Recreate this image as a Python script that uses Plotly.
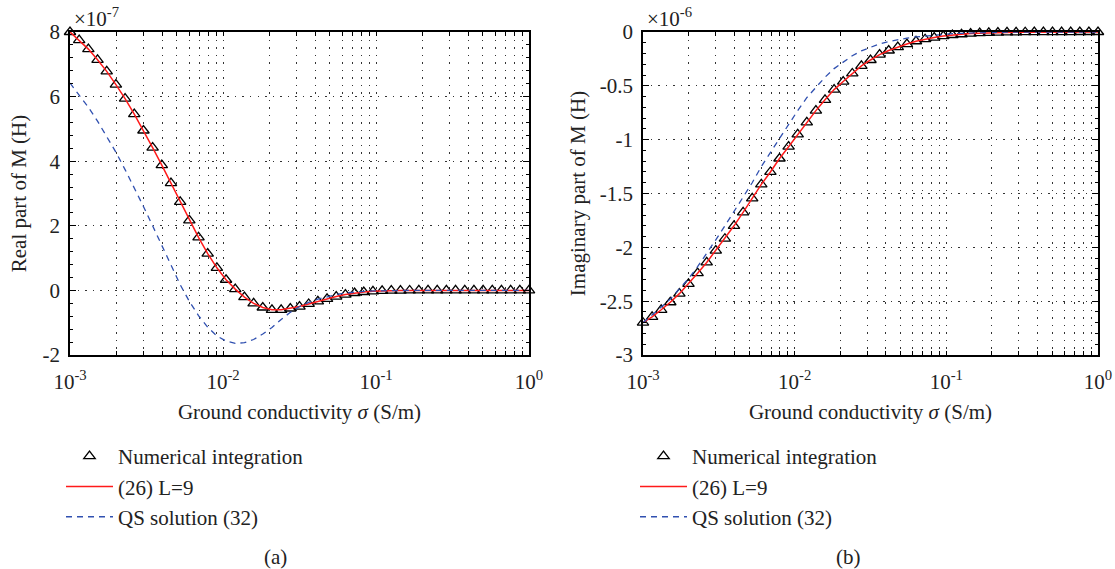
import plotly.graph_objects as go

# log10 of ground conductivity sample points (S/m)
log_sigma = [-3.00, -2.94, -2.88, -2.82, -2.76, -2.70, -2.64, -2.58, -2.52, -2.46,
             -2.40, -2.34, -2.28, -2.22, -2.16, -2.10, -2.04, -1.98, -1.92, -1.86,
             -1.80, -1.74, -1.68, -1.62, -1.56, -1.50, -1.44, -1.38, -1.32, -1.26,
             -1.20, -1.14, -1.08, -1.02, -0.96, -0.90, -0.84, -0.78, -0.72, -0.66,
             -0.60, -0.54, -0.48, -0.42, -0.36, -0.30, -0.24, -0.18, -0.12, -0.06, 0.00]
sigma = [10 ** v for v in log_sigma]

# Real part of M, units of 1e-7 H
real_numerical = [8.00, 7.75, 7.47, 7.14, 6.78, 6.37, 5.94, 5.46, 4.95, 4.42,
                  3.88, 3.32, 2.74, 2.17, 1.64, 1.14, 0.70, 0.33, 0.04, -0.21,
                  -0.40, -0.53, -0.60, -0.60, -0.56, -0.50, -0.42, -0.34, -0.26, -0.19,
                  -0.13, -0.08, -0.05, -0.03, -0.015, -0.008, -0.004, -0.002, -0.001, 0.0,
                  0.0, 0.0, 0.0, 0.0, 0.0, 0.0, 0.0, 0.0, 0.0, 0.0, 0.0]
real_l9 = real_numerical
real_qs = [6.42, 6.06, 5.67, 5.24, 4.77, 4.28, 3.74, 3.18, 2.60, 2.00,
           1.39, 0.78, 0.18, -0.34, -0.78, -1.14, -1.41, -1.57, -1.64, -1.62,
           -1.52, -1.35, -1.15, -0.90, -0.68, -0.50, -0.37, -0.27, -0.19, -0.13,
           -0.08, -0.05, -0.03, -0.015, -0.007, -0.003, -0.001, 0.0, 0.0, 0.0,
           0.0, 0.0, 0.0, 0.0, 0.0, 0.0, 0.0, 0.0, 0.0, 0.0, 0.0]

# Imaginary part of M, units of 1e-6 H
imag_numerical = [-2.70, -2.645, -2.58, -2.51, -2.43, -2.34, -2.24, -2.14, -2.03, -1.92,
                  -1.80, -1.675, -1.545, -1.415, -1.30, -1.175, -1.065, -0.95, -0.84, -0.73,
                  -0.63, -0.535, -0.46, -0.385, -0.315, -0.26, -0.21, -0.172, -0.14, -0.112,
                  -0.086, -0.067, -0.052, -0.038, -0.028, -0.021, -0.015, -0.011, -0.008, -0.006,
                  -0.004, -0.003, -0.002, -0.0015, -0.001, -0.001, -0.0005, -0.0005, 0.0, 0.0, 0.0]
imag_l9 = imag_numerical
imag_qs = [-2.70, -2.63, -2.555, -2.48, -2.39, -2.29, -2.18, -2.06, -1.93, -1.80,
           -1.67, -1.53, -1.40, -1.25, -1.12, -0.98, -0.85, -0.73, -0.61, -0.51,
           -0.42, -0.34, -0.28, -0.22, -0.175, -0.14, -0.11, -0.088, -0.07, -0.057,
           -0.046, -0.037, -0.029, -0.022, -0.016, -0.012, -0.009, -0.006, -0.004, -0.003,
           -0.002, -0.0015, -0.001, -0.001, -0.0005, -0.0005, 0.0, 0.0, 0.0, 0.0, 0.0]

# x ticks: decades labelled, 2..9 unlabelled (log minor positions)
x_tickvals = [0.001, 0.002, 0.003, 0.004, 0.005, 0.006, 0.007, 0.008, 0.009,
              0.01, 0.02, 0.03, 0.04, 0.05, 0.06, 0.07, 0.08, 0.09,
              0.1, 0.2, 0.3, 0.4, 0.5, 0.6, 0.7, 0.8, 0.9, 1]
x_ticktext = ["10<sup>-3</sup>", "", "", "", "", "", "", "", "",
              "10<sup>-2</sup>", "", "", "", "", "", "", "", "",
              "10<sup>-1</sup>", "", "", "", "", "", "", "", "",
              "10<sup>0</sup>"]
real_tickvals = [-2, 0, 2, 4, 6, 8]
real_ticktext = ["-2", "0", "2", "4", "6", "8"]
imag_tickvals = [-3, -2.5, -2, -1.5, -1, -0.5, 0]
imag_ticktext = ["-3", "-2.5", "-2", "-1.5", "-1", "-0.5", "0"]

names = ["Numerical integration", "(26) L=9", "QS solution (32)"]

FONT = "Liberation Serif"
FS = 21
TXT = "#222222"
RED = "#ff1a1a"
BLUE = "#3050b0"
W, H = 1115, 569

fig = go.Figure()

def add_set(xa, ya, legend, num, l9, qs):
    fig.add_trace(go.Scatter(x=sigma, y=num, mode="markers", name=names[0],
                             marker=dict(symbol="triangle-up-open", size=10, color="black",
                                         line=dict(width=1.3)),
                             xaxis=xa, yaxis=ya, legend=legend, legendgroup=legend + "a",
                             cliponaxis=False))
    fig.add_trace(go.Scatter(x=sigma, y=l9, mode="lines", name=names[1],
                             line=dict(color=RED, width=1.5),
                             xaxis=xa, yaxis=ya, legend=legend, legendgroup=legend + "b"))
    fig.add_trace(go.Scatter(x=sigma, y=qs, mode="lines", name=names[2],
                             line=dict(color=BLUE, width=1.3, dash="6px,5px"),
                             xaxis=xa, yaxis=ya, legend=legend, legendgroup=legend + "c"))

add_set("x", "y", "legend", real_numerical, real_l9, real_qs)
add_set("x2", "y2", "legend2", imag_numerical, imag_l9, imag_qs)

GRID = dict(showgrid=True, gridcolor="#333333", griddash="1.5px,6px", gridwidth=1)
common_x = dict(type="log", range=[-3, 0], tickmode="array", tickvals=x_tickvals, ticktext=x_ticktext,
                ticks="inside", ticklen=4, tickcolor="black", mirror="ticks",
                showline=True, linecolor="black", linewidth=1.5, zeroline=False,
                ticklabelstandoff=7, automargin=False,
                tickfont=dict(family=FONT, size=FS, color=TXT),
                title=dict(text="Ground conductivity <i>σ</i> (S/m)",
                           font=dict(family=FONT, size=FS, color=TXT), standoff=11),
                **GRID)
common_y = dict(ticks="inside", ticklen=6, tickcolor="black", mirror="ticks",
                showline=True, linecolor="black", linewidth=1.5, zeroline=False,
                tickfont=dict(family=FONT, size=FS, color=TXT), ticklabelstandoff=4,
                automargin=False,
                **GRID)

py_top = 1 - 32 / H
py_bot = 1 - 355 / H
leg_common = dict(yanchor="top", xanchor="left", y=1 - 436 / H,
                  font=dict(family=FONT, size=FS, color=TXT), bgcolor="rgba(0,0,0,0)",
                  tracegroupgap=0, itemwidth=47)
fig.update_layout(
    width=W, height=H, margin=dict(l=0, r=0, t=0, b=0, autoexpand=False),
    paper_bgcolor="white", plot_bgcolor="white",
    font=dict(family=FONT, size=FS, color=TXT),
    xaxis=dict(domain=[70 / W, 529 / W], anchor="y", **common_x),
    xaxis2=dict(domain=[643 / W, 1098 / W], anchor="y2", **common_x),
    yaxis=dict(domain=[py_bot, py_top], anchor="x", range=[-2, 8],
               tickvals=real_tickvals, ticktext=real_ticktext,
               minor=dict(ticks="inside", ticklen=3, tickcolor="black", dtick=0.4, showgrid=False),
               title=dict(text="Real part of M (H)", font=dict(family=FONT, size=FS, color=TXT),
                          standoff=10),
               **common_y),
    yaxis2=dict(domain=[py_bot, py_top], anchor="x2", range=[-3, 0],
                tickvals=imag_tickvals, ticktext=imag_ticktext,
                minor=dict(ticks="inside", ticklen=3, tickcolor="black", dtick=0.1, showgrid=False),
                title=dict(text="Imaginary part of M (H)", font=dict(family=FONT, size=FS, color=TXT),
                           standoff=8),
                **common_y),
    legend=dict(x=61 / W, **leg_common),
    legend2=dict(x=635 / W, **leg_common),
    showlegend=True,
)

annots = [
    dict(text="×10<sup>-7</sup>", x=72 / W, y=1 - 18 / H, xanchor="left", yanchor="middle"),
    dict(text="×10<sup>-6</sup>", x=645 / W, y=1 - 18 / H, xanchor="left", yanchor="middle"),
    dict(text="(a)", x=275 / W, y=1 - 557 / H, xanchor="center", yanchor="middle"),
    dict(text="(b)", x=848 / W, y=1 - 557 / H, xanchor="center", yanchor="middle"),
]
for a in annots:
    fig.add_annotation(xref="paper", yref="paper", showarrow=False,
                       font=dict(family=FONT, size=FS, color=TXT), **a)

fig.write_html("out.html")
